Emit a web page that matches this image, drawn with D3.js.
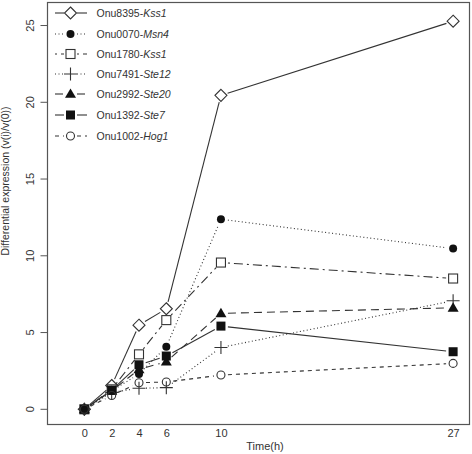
<!DOCTYPE html>
<html><head><meta charset="utf-8">
<script src="https://cdn.jsdelivr.net/npm/d3@7"></script>
<style>body{margin:0;background:#fff}svg{display:block}text{font-family:"Liberation Sans",Arial,sans-serif;fill:#333}</style>
</head><body><svg id="c" width="472" height="454"></svg>
<script>
const times = [0, 2, 4, 6, 10, 27];
const xTicks = [0, 2, 4, 6, 10, 27];
const yTicks = [0, 5, 10, 15, 20, 25];
const seriesIds = ["Onu8395-", "Onu0070-", "Onu1780-", "Onu7491-", "Onu2992-", "Onu1392-", "Onu1002-"];
const seriesGenes = ["Kss1", "Msn4", "Kss1", "Ste12", "Ste20", "Ste7", "Hog1"];
const vKss1a = [0, 1.55, 5.48, 6.55, 20.45, 25.28];
const vMsn4  = [0, 1.2, 2.3, 4.07, 12.38, 10.47];
const vKss1b = [0, 1.3, 3.58, 5.81, 9.56, 8.52];
const vSte12 = [0, 1.1, 1.37, 1.41, 4.03, 7.07];
const vSte20 = [0, 1.2, 2.6, 3.1, 6.25, 6.61];
const vSte7  = [0, 1.25, 2.9, 3.47, 5.42, 3.75];
const vHog1  = [0, 0.9, 1.73, 1.78, 2.23, 2.99];
const seriesValues = [vKss1a, vMsn4, vKss1b, vSte12, vSte20, vSte7, vHog1];
const symbols = ["diamond", "circleF", "square", "plus", "triangle", "squareF", "circle"];
const dashes = [null, "1,2.5", "2,4,9,4", "1,2.5", "8,5", null, "4,4"];

const svg = d3.select("#c");
const L = 47.5, R = 469.5, T = 2.5, B = 424.5;
const x = d3.scaleLinear().domain([-2.7, 28.2]).range([L, R]);
const y = d3.scaleLinear().domain([-0.99, 26.5]).range([B, T]);
const col = "#333";

// frame
svg.append("rect").attr("x", L).attr("y", T).attr("width", R - L).attr("height", B - T)
  .attr("fill", "none").attr("stroke", "#555").attr("stroke-width", 1.2);

// y axis
const ya = svg.append("g").attr("transform", `translate(${L},0)`)
  .call(d3.axisLeft(y).tickValues(yTicks).tickSize(7).tickPadding(0).tickFormat(d3.format("d")));
ya.select(".domain").remove();
ya.selectAll("line").attr("stroke", "#555");
ya.selectAll("text").attr("transform", d => `translate(-17,${y(d)}) rotate(-90)`)
  .attr("x", 0).attr("y", 0).attr("dy", "0.35em").attr("text-anchor", "middle")
  .style("font-size", "11px").attr("fill", col);
ya.selectAll(".tick").attr("transform", null);
ya.selectAll(".tick line").attr("y1", d => y(d)).attr("y2", d => y(d));

// x axis labels (no tick marks)
const xa = svg.append("g").attr("transform", `translate(0,${B})`)
  .call(d3.axisBottom(x).tickValues(xTicks).tickSize(0).tickPadding(5).tickFormat(d3.format("d")));
xa.select(".domain").remove();
xa.selectAll("text").style("font-size", "11px").attr("fill", col);

svg.append("text").attr("x", 265).attr("y", 450).attr("text-anchor", "middle")
  .style("font-size", "11px").text("Time(h)");
svg.append("text").attr("transform", "translate(9,181) rotate(-90)").attr("text-anchor", "middle")
  .style("font-size", "10.5px").attr("fill", col).text("Differential expression (v(i)/v(0))");

function drawSymbol(g, s, cx, cy) {
  const sw = 1.1;
  if (s === "diamond") {
    const r = 6;
    g.append("path").attr("d", `M${cx},${cy - r}L${cx + r},${cy}L${cx},${cy + r}L${cx - r},${cy}Z`)
      .attr("fill", "none").attr("stroke", col).attr("stroke-width", sw);
  } else if (s === "circleF") {
    g.append("circle").attr("cx", cx).attr("cy", cy).attr("r", 4).attr("fill", "#111");
  } else if (s === "circle") {
    g.append("circle").attr("cx", cx).attr("cy", cy).attr("r", 4).attr("fill", "none").attr("stroke", col).attr("stroke-width", sw);
  } else if (s === "square") {
    g.append("rect").attr("x", cx - 4.5).attr("y", cy - 4.5).attr("width", 9).attr("height", 9)
      .attr("fill", "none").attr("stroke", col).attr("stroke-width", sw);
  } else if (s === "squareF") {
    g.append("rect").attr("x", cx - 4.5).attr("y", cy - 4.5).attr("width", 9).attr("height", 9).attr("fill", "#111");
  } else if (s === "triangle") {
    const r = 5.5;
    g.append("path").attr("d", `M${cx},${cy - r}L${cx + r},${cy + r * 0.7}L${cx - r},${cy + r * 0.7}Z`).attr("fill", "#111");
  } else if (s === "plus") {
    const r = 6.5;
    g.append("path").attr("d", `M${cx - r},${cy}H${cx + r}M${cx},${cy - r}V${cy + r}`)
      .attr("stroke", col).attr("stroke-width", sw).attr("fill", "none");
  }
}

const gap = 7;
seriesValues.forEach((vals, i) => {
  const g = svg.append("g");
  const pts = times.map((t, k) => [x(t), y(vals[k])]);
  for (let k = 0; k < pts.length - 1; k++) {
    const [x1, y1] = pts[k], [x2, y2] = pts[k + 1];
    const dx = x2 - x1, dy = y2 - y1, len = Math.hypot(dx, dy);
    if (len <= 2 * gap) continue;
    const ux = dx / len, uy = dy / len;
    g.append("line").attr("x1", x1 + ux * gap).attr("y1", y1 + uy * gap)
      .attr("x2", x2 - ux * gap).attr("y2", y2 - uy * gap)
      .attr("stroke", col).attr("stroke-width", 1.1)
      .attr("stroke-dasharray", dashes[i]);
  }
  pts.forEach(p => drawSymbol(g, symbols[i], p[0], p[1]));
});

// legend
const legY = [13, 34, 54, 74, 94, 115, 136];
seriesIds.forEach((id, i) => {
  const g = svg.append("g");
  const cy = legY[i];
  g.append("line").attr("x1", 55).attr("x2", 64).attr("y1", cy).attr("y2", cy)
    .attr("stroke", col).attr("stroke-width", 1.1).attr("stroke-dasharray", dashes[i]);
  g.append("line").attr("x1", 77).attr("x2", 87).attr("y1", cy).attr("y2", cy)
    .attr("stroke", col).attr("stroke-width", 1.1).attr("stroke-dasharray", dashes[i]);
  drawSymbol(g, symbols[i], 70.5, cy);
  const t = g.append("text").attr("x", 96.5).attr("y", cy).attr("dy", "0.35em").style("font-size", "10.5px");
  t.append("tspan").text(id);
  t.append("tspan").style("font-style", "italic").text(seriesGenes[i]);
});
</script></body></html>
